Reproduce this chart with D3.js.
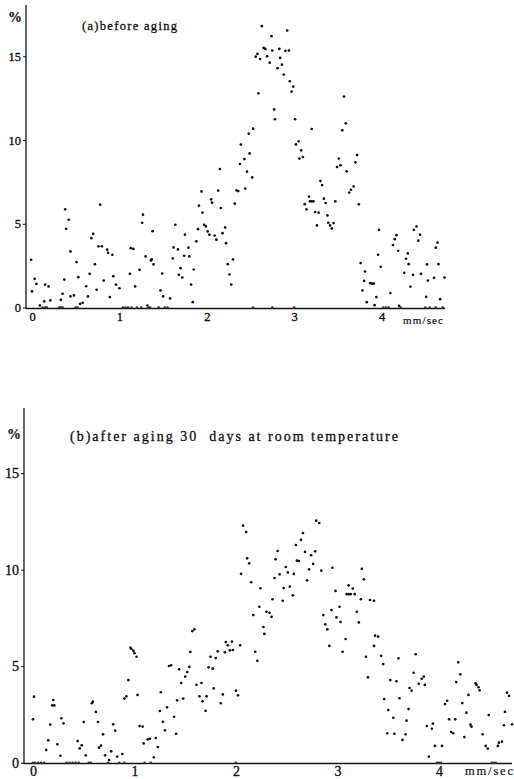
<!DOCTYPE html>
<html><head><meta charset="utf-8">
<script src="https://cdn.jsdelivr.net/npm/d3@7"></script>
<style>body{margin:0;background:#fff}svg{display:block}text{white-space:pre}</style>
</head><body><svg id="c" width="514" height="779"></svg>
<script>
const xTicks=[0,1,2,3,4];
const yTicks=[0,5,10,15];
const titleA="(a)before aging";
const titleB="(b)after aging 30  days at room temperature";
const unitX="mm/sec", unitY="%";

// panel (a): [speed mm/sec, %]
const panelA=[
[-0.01,2.85],[0.00,0.96],[0.03,1.71],[0.05,1.41],[0.09,0.12],[0.14,0.36],[0.15,1.36],[0.19,1.26],[0.21,0.42],[0.33,0.46],[0.35,0.82],[0.37,1.67],[0.38,5.86],[0.39,4.70],[0.42,5.24],[0.44,3.35],[0.44,0.66],[0.48,0.72],[0.51,2.71],[0.53,1.81],[0.55,0.22],[0.58,0.28],[0.62,1.27],[0.64,0.66],[0.66,2.01],[0.68,4.14],[0.70,4.40],[0.72,2.59],[0.74,1.06],[0.76,3.65],[0.78,6.14],[0.80,3.65],[0.82,1.61],[0.86,3.45],[0.87,3.27],[0.89,0.62],[0.92,3.15],[0.93,1.87],[0.96,1.37],[1.00,1.15],[1.12,2.01],[1.13,3.54],[1.16,3.50],[1.18,1.26],[1.23,2.25],
[1.26,5.06],[1.27,5.54],[1.30,3.05],[1.32,0.12],[1.36,2.81],[1.37,2.87],[1.38,4.56],[1.39,2.57],[1.47,1.02],[1.49,2.03],[1.50,0.66],[1.58,0.54],[1.61,2.93],[1.62,3.59],[1.64,4.94],[1.67,3.47],[1.68,1.95],[1.70,2.35],[1.72,1.79],[1.74,3.09],[1.75,4.35],[1.79,3.57],[1.80,3.05],[1.82,1.37],[1.84,0.32],[1.85,2.27],[1.88,3.95],[1.90,4.68],[1.91,6.08],[1.94,6.93],[1.95,5.66],[1.97,4.94],[1.99,4.84],[2.01,4.54],[2.03,4.35],[2.05,6.46],[2.06,6.26],[2.09,4.30],[2.11,4.05],[2.13,6.98],[2.15,8.27],[2.16,5.94],[2.18,4.44],[2.21,4.78],[2.22,3.84],[2.24,2.59],[2.26,1.97],[2.28,1.37],[2.30,2.87],[2.32,6.20],[2.34,6.99],[2.36,6.95],[2.38,8.57],[2.39,9.73],[2.43,8.86],[2.44,7.10],[2.46,8.11],[2.48,10.38],[2.49,9.20],
[2.52,7.77],[2.53,10.68],[2.59,12.79],[2.56,14.98],[2.58,15.14],[2.61,14.84],[2.63,16.8],[2.65,15.5],[2.67,15.44],[2.69,15.0],[2.72,14.62],[2.74,16.2],[2.75,15.34],[2.77,11.83],[2.78,11.24],[2.81,14.29],[2.83,15.44],[2.84,14.9],[2.86,14.5],[2.88,13.91],[2.90,15.32],[2.92,16.54],[2.94,15.34],[2.95,13.51],[2.97,12.89],[2.99,13.19],[3.01,11.24],[3.02,9.74],[3.05,9.92],[3.06,8.89],[3.08,9.38],[3.10,8.98],[3.12,6.17],[3.14,5.86],[3.17,6.62],[3.18,6.34],[3.20,6.34],[3.22,6.34],[3.20,10.66],[3.24,5.70],[3.26,4.90],[3.28,5.66],[3.30,7.55],[3.32,7.31],[3.34,6.50],[3.36,6.24],[3.38,5.50],[3.39,5.06],[3.41,4.90],[3.43,4.72],[3.45,5.04],[3.47,6.34],[3.49,8.39],[3.51,8.89],[3.53,8.49],[3.55,10.58],[3.57,12.6],[3.59,11.0],[3.60,8.13],[3.63,6.86],[3.65,7.03],[3.68,7.23],[3.70,8.67],[3.72,9.10],[3.74,6.16],
[3.76,2.65],[3.78,1.02],[3.80,1.59],[3.81,2.15],[3.83,0.32],[3.87,1.45],[3.89,1.43],[3.91,1.42],[3.92,0.14],[3.94,0.62],[3.96,3.15],[3.97,4.64],[3.99,2.43],[4.10,0.86],[4.13,3.73],[4.15,4.08],[4.17,4.32],[4.19,3.39],[4.20,0.10],[4.26,2.07],[4.28,2.91],[4.30,3.23],[4.31,2.59],[4.33,1.24],[4.36,1.95],[4.37,4.64],[4.40,4.84],[4.42,3.99],[4.44,4.35],[4.45,2.01],[4.51,0.64],[4.52,2.57],[4.53,1.61],[4.60,1.77],[4.62,3.57],[4.64,3.87],[4.65,2.59],[4.67,0.50],[4.72,1.79]
];
const zerosA=[0.12,0.15,0.17,0.31,0.33,0.35,0.50,0.52,1.04,1.07,1.10,1.14,1.20,1.25,1.33,1.35,1.45,1.52,1.55,2.53,2.75,3.00,4.02,4.05,4.08,4.22,4.50,4.55,4.62,4.70];

// panel (b): [speed mm/sec, %]
const panelB=[
[0.01,3.42],[0.00,2.25],[0.13,0.66],[0.15,1.16],[0.17,1.97],[0.20,3.25],[0.21,2.97],[0.19,2.97],[0.24,0.95],[0.27,0.36],[0.28,2.30],[0.30,2.04],[0.44,1.12],[0.46,0.74],[0.48,0.90],[0.50,2.11],[0.52,0.38],[0.58,3.08],[0.59,3.16],[0.62,2.63],[0.64,2.11],[0.65,0.78],[0.67,0.88],[0.69,1.47],[0.71,0.38],[0.75,0.14],[0.77,0.59],[0.79,1.99],[0.81,1.66],[0.83,0.31],[0.88,0.45],[0.90,3.32],[0.92,3.44],[0.94,4.28],[0.96,5.96],[0.97,5.89],[0.99,5.79],[1.00,5.67],[1.02,5.49],[1.03,3.51],[1.05,1.90],[1.08,1.87],[1.09,1.00],[1.13,1.21],[1.15,1.24],[1.19,0.28],[1.21,1.28],[1.23,0.81],[1.25,2.68],[1.26,3.65],[1.28,2.12],[1.30,1.68],[1.32,2.87],[1.34,5.01],[1.36,5.05],[1.39,2.38],[1.41,1.50],[1.42,3.23],[1.44,4.84],[1.46,4.13],[1.48,3.32],[1.50,4.46],[1.52,4.70],[1.54,4.96],[1.55,5.74],[1.57,6.82],[1.59,6.91],[1.61,4.04],[1.64,3.44],[1.66,4.13],[1.67,3.18],[1.70,2.69],[1.71,3.44],[1.73,4.94],[1.75,5.49],[1.77,4.87],[1.78,3.85],[1.80,5.42],[1.82,5.77],[1.85,3.08],[1.87,3.54],[1.89,5.72],[1.90,6.25],[1.92,6.08],[1.94,5.82],[1.96,6.27],[1.97,5.84],[2.00,3.73],[2.02,3.49],[2.04,6.08],[2.05,9.79],
[2.07,12.28],[2.10,11.95],[2.11,10.59],[2.13,10.33],[2.15,9.35],[2.17,7.65],[2.19,5.75],[2.21,5.28],[2.23,8.08],[2.24,9.04],[2.27,7.03],[2.28,6.67],[2.30,7.82],[2.33,7.77],[2.35,7.56],[2.36,8.47],[2.38,9.57],[2.39,10.54],[2.41,10.97],[2.43,9.76],[2.46,8.39],[2.47,9.05],[2.49,10.14],[2.51,9.86],[2.53,9.12],[2.56,8.67],[2.57,9.78],[2.59,11.28],[2.60,10.47],[2.62,10.45],[2.64,11.55],[2.66,11.90],[2.68,10.92],[2.70,9.45],[2.72,10.02],[2.74,10.75],[2.76,10.30],[2.78,10.95],[2.79,12.54],[2.82,12.42],[2.84,9.95],[2.86,7.65],[2.88,7.17],[2.90,6.91],[2.92,6.05],[2.94,7.91],[2.95,10.10],[2.98,8.90],[2.99,7.53],[3.02,8.08],[3.03,7.29],[3.05,5.75],[3.08,6.41],[3.09,8.73],[3.11,8.73],[3.13,8.73],[3.11,9.19],[3.15,9.02],[3.17,8.73],[3.19,7.82],[3.21,7.27],[3.23,8.47],[3.24,10.04],[3.26,9.50],[3.28,5.49],[3.30,4.42],[3.32,8.43],[3.36,8.39],
[3.37,6.58],[3.40,6.53],[3.36,6.05],[3.43,5.54],[3.45,5.11],[3.46,3.30],[3.50,2.73],[3.52,4.28],[3.55,2.33],[3.58,4.22],[3.49,1.52],[3.56,1.50],[3.60,5.41],[3.61,3.34],[3.64,1.18],[3.67,1.47],[3.68,2.18],[3.70,2.78],[3.71,3.87],[3.73,3.73],[3.75,4.66],[3.77,5.62],[3.80,4.09],[3.83,4.35],[3.85,4.46],[3.86,4.03],[3.88,1.90],[3.90,0.31],[3.93,1.76],[3.94,2.02],[3.96,0.87],[4.03,0.87],[4.06,3.04],[4.08,3.21],[4.10,2.25],[4.12,1.59],[4.14,1.52],[4.16,2.25],[4.17,4.18],[4.19,5.20],[4.21,4.58],[4.23,3.09],[4.25,1.33],[4.27,2.59],[4.29,3.51],[4.31,1.97],[4.32,1.87],[4.36,4.11],[4.37,4.03],[4.39,3.91],[4.40,3.75],[4.43,1.47],[4.46,0.87],[4.48,0.73],[4.49,2.47],[4.58,0.87],[4.59,1.04],[4.62,1.09],[4.64,1.94],[4.65,2.63],[4.67,3.63],[4.69,3.47],[4.72,1.99]
];
const zerosB=[0.00,0.02,0.05,0.08,0.11,0.33,0.36,0.39,0.42,0.45,0.55,0.57,0.74,0.85,0.90,1.10,1.16,2.00,3.98,4.00,4.02,4.52,4.54,4.56];

const svg=d3.select("#c");
const FONT='"Liberation Serif","DejaVu Serif",serif';
function ink(sel,w){sel.attr("font-family",FONT).attr("fill","#111").attr("stroke","#111").attr("stroke-width",w);}

function drawPanel(c){
  const g=svg.append("g");
  const x=d3.scaleLinear().domain([0,4]).range([c.x0,c.x4]);
  const y=d3.scaleLinear().domain([0,15]).range([c.y0,c.y15]);

  g.append("line").attr("x1",c.axisX).attr("x2",c.axisX).attr("y1",c.yTop).attr("y2",c.axisY+0.5)
   .attr("stroke","#111").attr("stroke-width",1.3);
  g.append("line").attr("x1",c.axisX).attr("x2",c.xEnd).attr("y1",c.axisY).attr("y2",c.axisY)
   .attr("stroke","#111").attr("stroke-width",1.4);

  const ya=d3.axisLeft(y).tickValues(yTicks).tickSize(3).tickPadding(2).tickFormat(d3.format("d"));
  const gy=g.append("g").attr("transform",`translate(${c.axisX},0)`).call(ya);
  gy.select(".domain").remove();
  ink(gy.selectAll("text").attr("font-size",c.fs),0.35);
  gy.selectAll("line").attr("stroke","#111");

  const xa=d3.axisBottom(x).tickValues(xTicks).tickSize(0).tickPadding(c.xpad).tickFormat(d3.format("d"));
  const gx=g.append("g").attr("transform",`translate(0,${c.axisY})`).call(xa);
  gx.select(".domain").remove();
  ink(gx.selectAll("text").attr("font-size",c.fs),0.35);

  g.selectAll("circle.d").data(c.data).join("circle").attr("class","d")
   .attr("cx",d=>x(d[0])).attr("cy",d=>y(d[1])).attr("r",1.35).attr("fill","#111");
  g.selectAll("circle.z").data(c.zeros).join("circle").attr("class","z")
   .attr("cx",d=>x(d)).attr("cy",y(0)).attr("r",1.3).attr("fill","#333");

  ink(g.append("text").attr("x",c.pctX).attr("y",c.pctY).attr("font-size",14)
   .attr("font-weight","bold").text(unitY),0.2);
  ink(g.append("text").attr("x",c.titleX).attr("y",c.titleY).attr("font-size",c.tfs)
   .attr("textLength",c.titleW).attr("lengthAdjust","spacing").text(c.title),0.3);
  ink(g.append("text").attr("x",c.unitX).attr("y",c.unitYp).attr("font-size",c.ufs)
   .attr("textLength",c.unitW).attr("lengthAdjust","spacing").text(unitX),0.2);
}

drawPanel({data:panelA,zeros:zerosA,x0:32,x4:381.6,y0:307.5,y15:56.3,axisX:26,axisY:308.5,xEnd:445,yTop:5,
  fs:12.5,xpad:4,pctX:8,pctY:22,title:titleA,titleX:82,titleY:30,tfs:12.5,titleW:95,unitX:403,unitYp:324,ufs:11,unitW:40});
drawPanel({data:panelB,zeros:zerosB,x0:33,x4:439,y0:762.7,y15:473.2,axisX:24,axisY:763.5,xEnd:512,yTop:408,
  fs:14,xpad:3,pctX:7,pctY:439,title:titleB,titleX:70,titleY:441,tfs:14,titleW:328,unitX:465,unitYp:775,ufs:12.5,unitW:48});
</script></body></html>
